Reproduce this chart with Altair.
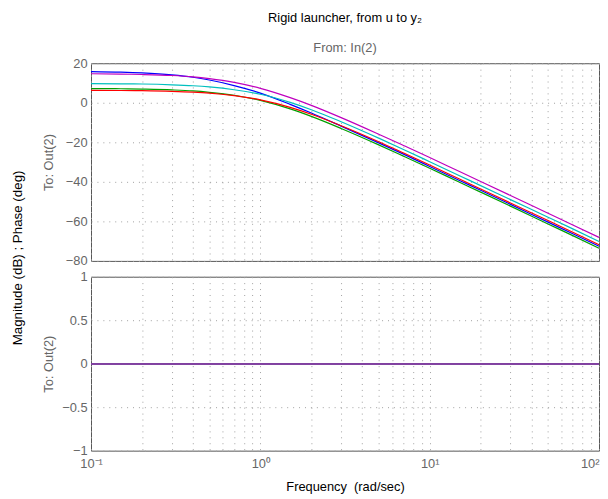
import altair as alt
import pandas as pd

# Frequencies (rad/sec) at which the curves were read
freq = [0.1, 0.15, 0.2, 0.3, 0.4, 0.5, 0.7, 1, 1.5, 2, 3, 5, 7, 10, 15, 20, 30, 50, 70, 100]

# Magnitude (dB), one list per curve
mag_blue = [15.8, 15.5, 15.1, 14.1, 12.9, 11.5, 8.7, 4.9, -0.8, -5.2, -11.8, -20.3, -26.0, -32.2, -39.3, -44.3, -51.4, -60.4, -66.3, -72.6]
mag_green = [7.2, 7.1, 6.9, 6.5, 6.0, 5.3, 3.8, 1.2, -3.1, -6.9, -13.0, -21.3, -27.0, -33.1, -40.2, -45.2, -52.3, -61.3, -67.2, -73.6]
mag_red = [6.3, 6.2, 6.1, 5.8, 5.4, 4.9, 3.6, 1.5, -2.3, -5.8, -11.6, -19.7, -25.4, -31.5, -38.6, -43.6, -50.7, -59.6, -65.5, -71.8]
mag_cyan = [9.7, 9.6, 9.5, 9.1, 8.6, 8.0, 6.6, 4.3, 0.2, -3.5, -9.6, -17.9, -23.6, -29.8, -36.9, -41.9, -49.0, -57.9, -63.8, -70.2]
mag_magenta = [14.7, 14.5, 14.3, 13.8, 13.1, 12.2, 10.3, 7.3, 2.6, -1.3, -7.5, -15.9, -21.6, -27.7, -34.8, -39.8, -46.9, -55.9, -61.8, -68.1]

# Phase (deg): flat at zero
phase = [0, 0, 0, 0, 0, 0, 0, 0, 0, 0, 0, 0, 0, 0, 0, 0, 0, 0, 0, 0]

series = ["1", "2", "3", "4", "5"]
colors = ["#0000ff", "#00a000", "#ff0000", "#00bfbf", "#bf00bf"]
mags = [mag_blue, mag_green, mag_red, mag_cyan, mag_magenta]

x_ticks = [0.1, 0.2, 0.3, 0.4, 0.5, 0.6, 0.7, 0.8, 0.9,
           1, 2, 3, 4, 5, 6, 7, 8, 9,
           10, 20, 30, 40, 50, 60, 70, 80, 90, 100]
mag_ticks = [-80, -60, -40, -20, 0, 20]
phase_ticks = [-1, -0.5, 0, 0.5, 1]

rows = []
for s, m in zip(series, mags):
    for i, f in enumerate(freq):
        rows.append({"freq": f, "mag": m[i], "phase": phase[i], "sys": s, "order": i})
df = pd.DataFrame(rows)

W = 514
H1 = 200
H2 = 176

xscale = alt.Scale(type="log", domain=[0.1, 100], nice=False)
color = alt.Color("sys:N", scale=alt.Scale(domain=series, range=colors), legend=None)

mag_lines = alt.Chart(df).mark_line(strokeWidth=1.2, interpolate="monotone", clip=True).encode(
    x=alt.X("freq:Q", scale=xscale,
            axis=alt.Axis(values=x_ticks, labels=False, ticks=False, domain=False, grid=True, title=None)),
    y=alt.Y("mag:Q", scale=alt.Scale(domain=[-80, 20], nice=False),
            axis=alt.Axis(values=mag_ticks, ticks=False, domain=False, grid=True, labelPadding=4,
                          title="To: Out(2)", titleX=-43, titleY=H1 / 2, titleBaseline="middle")),
    color=color,
    order="order:Q",
)

title_txt = alt.Chart(pd.DataFrame({"t": ["Rigid launcher, from u to y\u2082"]})).mark_text(
    font="Liberation Sans", fontSize=13, color="black", baseline="middle", align="center"
).encode(x=alt.value(W / 2), y=alt.value(-46), text="t:N")

from_txt = alt.Chart(pd.DataFrame({"t": ["From: In(2)"]})).mark_text(
    font="Liberation Sans", fontSize=13, color="#666666", baseline="middle", align="center"
).encode(x=alt.value(W / 2), y=alt.value(-15), text="t:N")

ylab_txt = alt.Chart(pd.DataFrame({"t": ["Magnitude (dB) ; Phase (deg)"]})).mark_text(
    font="Liberation Sans", fontSize=13.5, color="black", baseline="middle", align="center", angle=270
).encode(x=alt.value(-74), y=alt.value(197), text="t:N")

top = alt.layer(mag_lines, title_txt, from_txt, ylab_txt).properties(width=W, height=H1)

label_expr = ("datum.value == 0.1 ? '10\u207b\u00b9' : datum.value == 1 ? '10\u2070' : "
              "datum.value == 10 ? '10\u00b9' : datum.value == 100 ? '10\u00b2' : ''")

phase_lines = alt.Chart(df).mark_line(strokeWidth=1.4, color="#8040a0", clip=True).encode(
    x=alt.X("freq:Q", scale=xscale,
            axis=alt.Axis(values=x_ticks, labelExpr=label_expr, ticks=False, domain=False, grid=True,
                          labelPadding=7,
                          labelAlign={"condition": {"test": "datum.value >= 100", "value": "right"},
                                      "value": "center"},
                          title="Frequency\u00a0 (rad/sec)", titleColor="black",
                          titleY=36, titleBaseline="middle")),
    y=alt.Y("phase:Q", scale=alt.Scale(domain=[-1, 1], nice=False),
            axis=alt.Axis(values=phase_ticks, format="~g", ticks=False, domain=False, grid=True,
                          labelPadding=4,
                          title="To: Out(2)", titleX=-43, titleY=H2 / 2, titleBaseline="middle")),
    detail="sys:N",
    order="order:Q",
).properties(width=W, height=H2)

chart = alt.vconcat(top, phase_lines, spacing=16, bounds="flush").properties(
    padding={"left": 2, "top": 0, "right": 0, "bottom": 0},
    background="white",
).configure_view(
    stroke="#555555", strokeWidth=1
).configure_axis(
    labelFont="Liberation Sans", labelFontSize=13, labelColor="#666666",
    titleFont="Liberation Sans", titleFontSize=13, titleFontWeight="normal", titleColor="#666666",
    gridColor="#a0a0a0", gridDash=[1, 5], gridWidth=1,
)

chart.save("out.html", embed_options={"renderer": "svg", "actions": False})
